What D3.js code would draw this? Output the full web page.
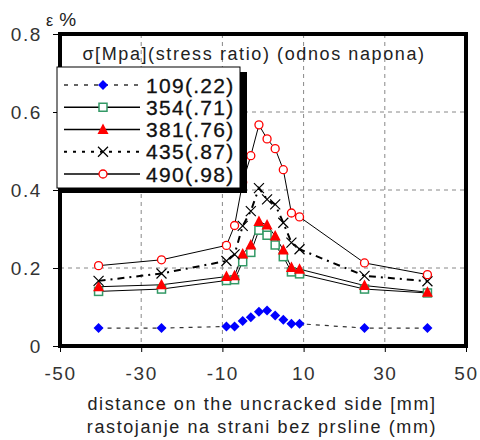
<!DOCTYPE html>
<html>
<head>
<meta charset="utf-8">
<script src="https://cdn.jsdelivr.net/npm/d3@7"></script>
<style>
  body { margin: 0; background: #fff; }
  text { font-family: "Liberation Sans", Arial, sans-serif; fill: #222; }
</style>
</head>
<body>
<div id="chart"></div>
<script>
// distance from crack (mm) and strain (%) per stress level
var distances = [-40.5, -25, -9, -7, -5, -3, -1, 1, 3, 5, 7, 9, 25, 40.5];
var s109 = [0.046, 0.046, 0.050, 0.050, 0.064, 0.074, 0.088, 0.091, 0.078, 0.067, 0.057, 0.057, 0.046, 0.046];
var s354 = [0.140, 0.146, 0.168, 0.170, 0.216, 0.240, 0.297, 0.284, 0.259, 0.229, 0.190, 0.185, 0.146, 0.136];
var s381 = [0.152, 0.157, 0.178, 0.180, 0.236, 0.259, 0.319, 0.310, 0.282, 0.246, 0.201, 0.197, 0.155, 0.138];
var s435 = [0.167, 0.186, 0.218, 0.235, 0.308, 0.346, 0.405, 0.376, 0.363, 0.316, 0.265, 0.248, 0.180, 0.166];
var s490 = [0.206, 0.221, 0.258, 0.309, 0.420, 0.488, 0.567, 0.531, 0.506, 0.452, 0.341, 0.331, 0.213, 0.183];
var seriesNames = ["109(.22)", "354(.71)", "381(.76)", "435(.87)", "490(.98)"];
var xTicks = [-50, -30, -10, 10, 30, 50];
var yTicks = [0, 0.2, 0.4, 0.6, 0.8];
var gridX = [-30, -10, 10, 30];
var gridY = [0.2, 0.4, 0.6];

var width = 480, height = 440;
var plotL = 60, plotR = 466, plotT = 34, plotB = 346;

var svg = d3.select("#chart").append("svg")
    .attr("width", width)
    .attr("height", height);

var x = d3.scaleLinear().domain([-50, 50]).range([plotL, plotR]);
var y = d3.scaleLinear().domain([0, 0.8]).range([plotB, plotT]);

// grid
svg.selectAll(".gx").data(gridX).enter().append("line")
    .attr("x1", d => x(d)).attr("x2", d => x(d))
    .attr("y1", plotT).attr("y2", plotB)
    .style("stroke", "#888").style("stroke-dasharray", "4,4");
svg.selectAll(".gy").data(gridY).enter().append("line")
    .attr("x1", plotL).attr("x2", plotR)
    .attr("y1", d => y(d)).attr("y2", d => y(d))
    .style("stroke", "#888").style("stroke-dasharray", "4,4");

// axes
var yAxis = svg.append("g")
    .attr("transform", "translate(" + plotL + ",0)")
    .call(d3.axisLeft(y).tickValues(yTicks).tickSize(7).tickPadding(11)
        .tickFormat(d => d === 0 ? "0" : d3.format(".1f")(d)));
var xAxis = svg.append("g")
    .attr("transform", "translate(0," + plotB + ")")
    .call(d3.axisBottom(x).tickValues(xTicks).tickSize(6).tickPadding(18)
        .tickFormat(d => d < 0 ? "-" + Math.abs(d) : d));
[yAxis, xAxis].forEach(function (a) {
    a.select(".domain").remove();
    a.selectAll("line").style("stroke", "#000");
    a.selectAll("text").style("font-size", "19px").style("letter-spacing", "1.6px").style("fill", "#333")
        .style("font-family", "'Liberation Sans', Arial, sans-serif");
});
xAxis.selectAll("text").attr("dy", "0.55em");

// frame
svg.append("rect")
    .attr("x", plotL).attr("y", plotT)
    .attr("width", plotR - plotL).attr("height", plotB - plotT)
    .style("fill", "none").style("stroke", "#000").style("stroke-width", 4);

// series
var styles = [
    { vals: s109, dash: "4,5", w: 1.2, color: "#333", mark: "diamond" },
    { vals: s354, dash: null, w: 1, color: "#000", mark: "square" },
    { vals: s381, dash: null, w: 1, color: "#000", mark: "triangle" },
    { vals: s435, dash: "7,5,2,5", w: 2, color: "#000", mark: "cross" },
    { vals: s490, dash: null, w: 1, color: "#000", mark: "circle" }
];

var line = d3.line().x(d => x(d[0])).y(d => y(d[1]));

function drawMarker(g, type, cx, cy) {
    if (type === "diamond") {
        g.append("path").attr("d", "M0,-5L5,0L0,5L-5,0Z")
            .attr("transform", "translate(" + cx + "," + cy + ")")
            .style("fill", "#0000ff");
    } else if (type === "square") {
        g.append("rect").attr("x", cx - 4).attr("y", cy - 4).attr("width", 8).attr("height", 8)
            .style("fill", "#fff").style("stroke", "#339966").style("stroke-width", 1.5);
    } else if (type === "triangle") {
        g.append("path").attr("d", "M0,-6L5.5,4.5L-5.5,4.5Z")
            .attr("transform", "translate(" + cx + "," + cy + ")")
            .style("fill", "#ff0000");
    } else if (type === "cross") {
        g.append("path").attr("d", "M-5,-5L5,5M-5,5L5,-5")
            .attr("transform", "translate(" + cx + "," + cy + ")")
            .style("stroke", "#000").style("stroke-width", 1.2).style("fill", "none");
    } else if (type === "circle") {
        g.append("circle").attr("cx", cx).attr("cy", cy).attr("r", 4)
            .style("fill", "#fff").style("stroke", "#ff0000").style("stroke-width", 1.3);
    }
}

styles.forEach(function (s) {
    var pts = distances.map((d, i) => [d, s.vals[i]]);
    svg.append("path").datum(pts).attr("d", line)
        .style("fill", "none").style("stroke", s.color)
        .style("stroke-width", s.w)
        .style("stroke-dasharray", s.dash);
});
styles.forEach(function (s) {
    var g = svg.append("g");
    distances.forEach(function (d, i) { drawMarker(g, s.mark, x(d), y(s.vals[i])); });
});

// legend
svg.append("text").attr("x", 254).attr("y", 60).attr("text-anchor", "middle")
    .style("font-size", "18px").style("letter-spacing", "1.6px")
    .text("σ[Mpa](stress ratio) (odnos napona)");

var lg = svg.append("g");
lg.append("rect").attr("x", 62).attr("y", 72).attr("width", 185).attr("height", 121).style("fill", "#000");
lg.append("rect").attr("x", 57).attr("y", 67).attr("width", 183).attr("height", 121)
    .style("fill", "#fff").style("stroke", "#000").style("stroke-width", 1);
var rowY = d3.scalePoint().domain(seriesNames).range([85, 174]);
styles.forEach(function (s, i) {
    var ry = rowY(seriesNames[i]);
    lg.append("line").attr("x1", 64).attr("x2", 140).attr("y1", ry).attr("y2", ry)
        .style("stroke", s.color).style("stroke-width", s.w === 2 ? 2.2 : 1.3)
        .style("stroke-dasharray", s.dash ? (s.w === 2 ? "3,6" : "4,6") : null);
    drawMarker(lg, s.mark, 103, ry);
    lg.append("text").attr("x", 146).attr("y", ry + 7.5)
        .style("font-size", "21px").style("letter-spacing", "1.3px")
        .style("fill", "#111").style("stroke", "#111").style("stroke-width", 0.3)
        .text(seriesNames[i]);
});

// axis titles
var eps = svg.append("text").attr("x", 46).attr("y", 26);
eps.append("tspan").style("font-size", "16px").text("ε");
eps.append("tspan").attr("dx", 6).style("font-size", "19px").text("%");
svg.append("text").attr("x", 262).attr("y", 410).attr("text-anchor", "middle")
    .style("font-size", "18px").style("letter-spacing", "1.6px")
    .text("distance on the uncracked side [mm]");
svg.append("text").attr("x", 262).attr("y", 433).attr("text-anchor", "middle")
    .style("font-size", "18px").style("letter-spacing", "1.6px")
    .text("rastojanje na strani bez prsline (mm)");
</script>
</body>
</html>
